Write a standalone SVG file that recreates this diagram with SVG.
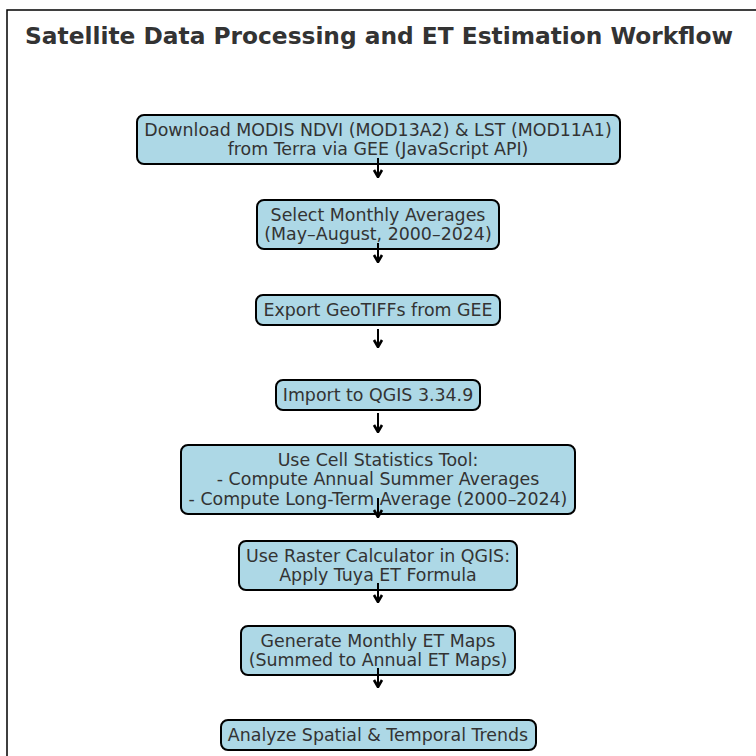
<svg xmlns="http://www.w3.org/2000/svg" width="756" height="756" viewBox="0 0 756 756">
<defs>
<style>
.box{fill:#add8e6;stroke:#000;stroke-width:2}
.t{font-family:"DejaVu Sans",sans-serif;font-size:17.4px;fill:#333;text-anchor:middle}
.title{font-family:"DejaVu Sans",sans-serif;font-size:23.3px;font-weight:bold;fill:#333}
.arr{stroke:#000;stroke-width:2;fill:none}
</style>
<marker id="ah" viewBox="0 0 12 12" refX="11" refY="6" markerWidth="12" markerHeight="12" orient="auto" markerUnits="userSpaceOnUse">
<path d="M4,2 L11,6 L4,10" fill="none" stroke="#000" stroke-width="2.6" stroke-linejoin="miter"/>
</marker>
</defs>
<rect x="0" y="0" width="756" height="756" fill="#fff"/>
<rect x="7" y="10" width="760" height="760" fill="none" stroke="#000" stroke-width="1.5"/>
<text class="title" x="25" y="44">Satellite Data Processing and ET Estimation Workflow</text>
<g id="n1"><rect class="box" x="137" y="115" width="483" height="49" rx="7"/>
<text class="t" x="378" y="136">Download MODIS NDVI (MOD13A2) &amp; LST (MOD11A1)</text>
<text class="t" x="378" y="155">from Terra via GEE (JavaScript API)</text></g>
<g id="n2"><rect class="box" x="257" y="200" width="242" height="49" rx="7"/>
<text class="t" x="378" y="221">Select Monthly Averages</text>
<text class="t" x="378" y="240">(May–August, 2000–2024)</text></g>
<g id="n3"><rect class="box" x="256" y="295" width="244" height="30" rx="7"/>
<text class="t" x="378" y="315.5">Export GeoTIFFs from GEE</text></g>
<g id="n4"><rect class="box" x="276" y="380" width="204" height="30" rx="7"/>
<text class="t" x="378" y="400.5">Import to QGIS 3.34.9</text></g>
<g id="n5"><rect class="box" x="181" y="445" width="394" height="69" rx="7"/>
<text class="t" x="378" y="465.5">Use Cell Statistics Tool:</text>
<text class="t" x="378" y="485">- Compute Annual Summer Averages</text>
<text class="t" x="378" y="504.5">- Compute Long-Term Average (2000–2024)</text></g>
<g id="n6"><rect class="box" x="239" y="541" width="278" height="49" rx="7"/>
<text class="t" x="378" y="562">Use Raster Calculator in QGIS:</text>
<text class="t" x="378" y="581">Apply Tuya ET Formula</text></g>
<g id="n7"><rect class="box" x="241" y="626" width="274" height="49" rx="7"/>
<text class="t" x="378" y="647">Generate Monthly ET Maps</text>
<text class="t" x="378" y="666">(Summed to Annual ET Maps)</text></g>
<g id="n8"><rect class="box" x="221" y="720" width="315" height="30" rx="7"/>
<text class="t" x="378" y="740.5">Analyze Spatial &amp; Temporal Trends</text></g>
<g id="connectors">
<line class="arr" x1="378" y1="158" x2="378" y2="177" marker-end="url(#ah)"/>
<line class="arr" x1="378" y1="243" x2="378" y2="262" marker-end="url(#ah)"/>
<line class="arr" x1="378" y1="329" x2="378" y2="347" marker-end="url(#ah)"/>
<line class="arr" x1="378" y1="413" x2="378" y2="432" marker-end="url(#ah)"/>
<line class="arr" x1="378" y1="498" x2="378" y2="517" marker-end="url(#ah)"/>
<line class="arr" x1="378" y1="583" x2="378" y2="602" marker-end="url(#ah)"/>
<line class="arr" x1="378" y1="668" x2="378" y2="687" marker-end="url(#ah)"/>
</g>
</svg>
